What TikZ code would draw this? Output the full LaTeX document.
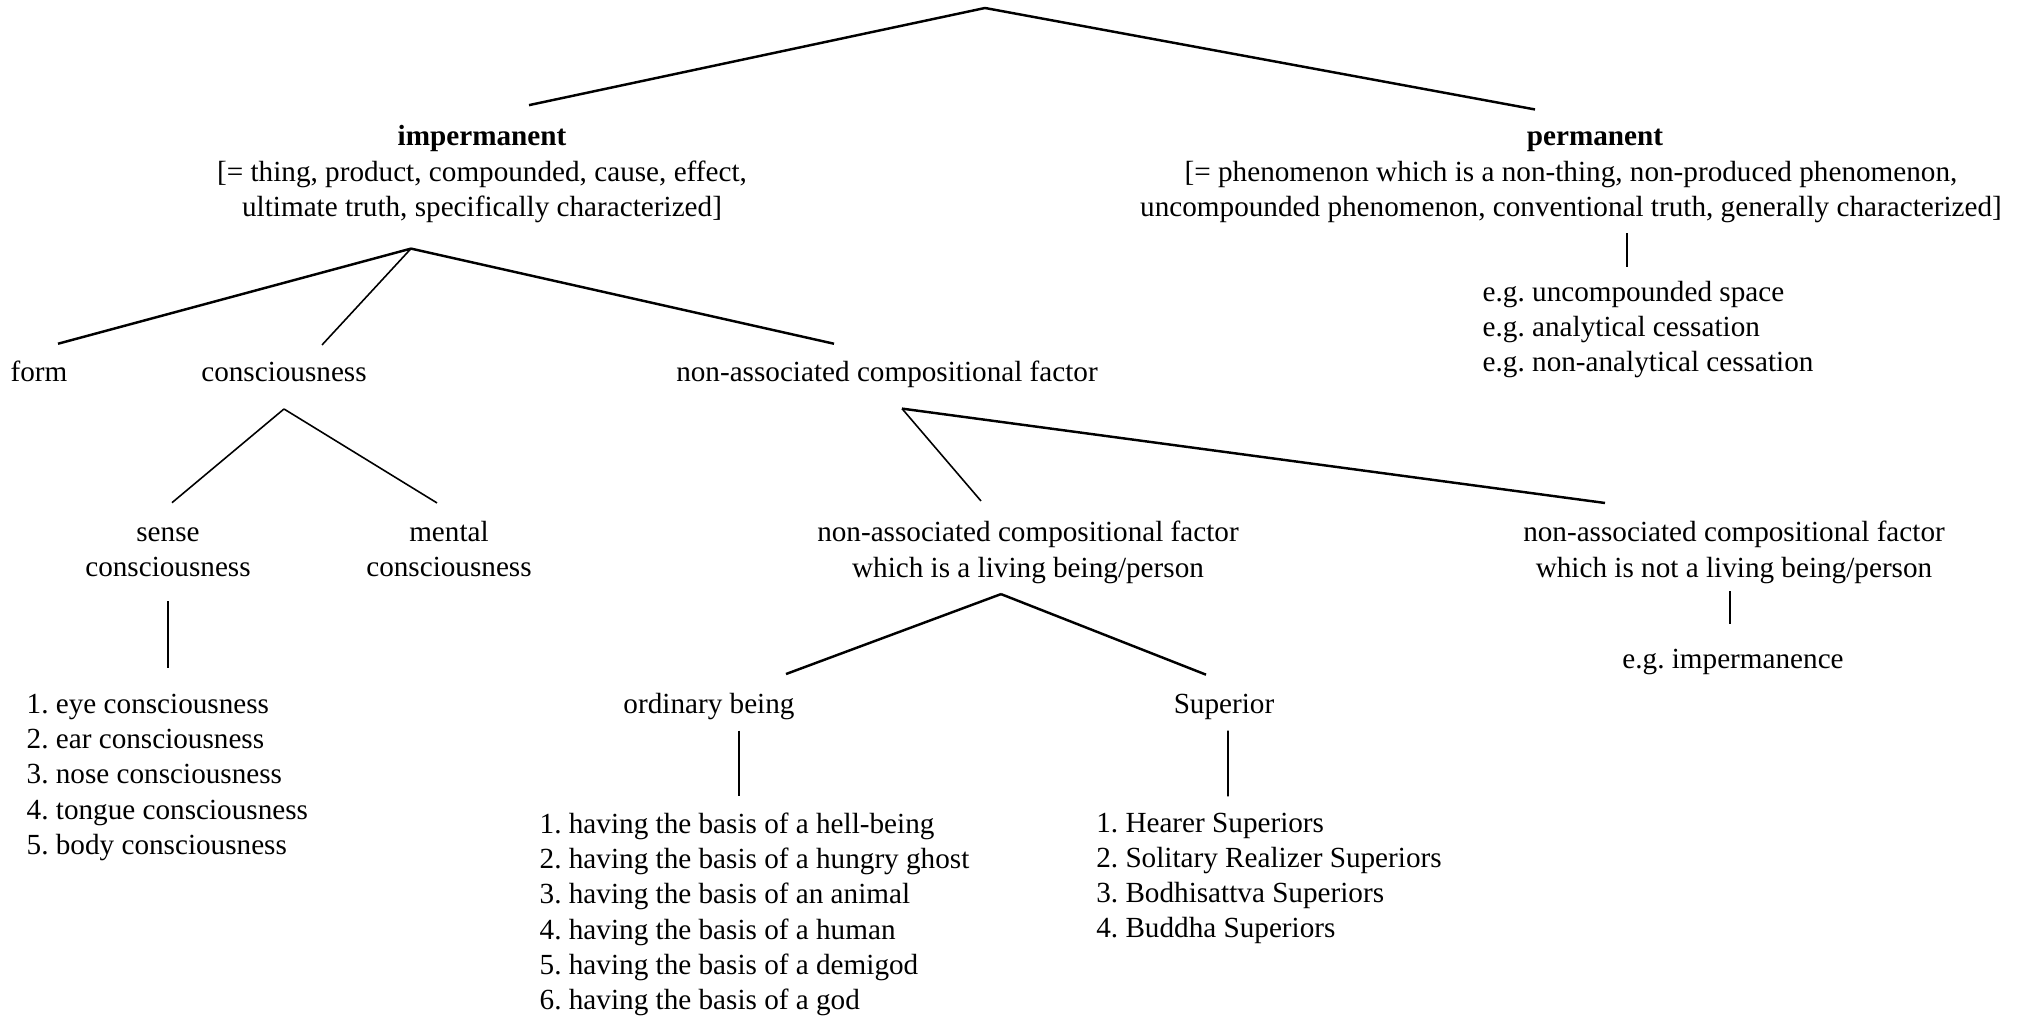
\documentclass[tikz,border=0pt]{standalone}
\usepackage{fontspec}
\setmainfont{Liberation Serif}

\begin{document}
\frenchspacing
\begin{tikzpicture}[x=0.01cm, y=-0.01cm,
        every node/.style={inner sep=0pt, font=\fontsize{8.3}{10}\selectfont},
        head/.style={anchor=base, font=\fontsize{8.3}{10}\selectfont\bfseries},
        word/.style={anchor=base},
        block/.style={align=center},
        items/.style={align=left, anchor=west},
        limb/.style={line width=0.7pt},
        twig/.style={line width=0.45pt}]
        \useasboundingbox (0,0) rectangle (2033,1016);

        \node[head] (imp) at (482,145.6) {impermanent};
        \node[block] (impdef) at (482,191.8) {{[}= thing, product, compounded, cause, effect,\\ultimate truth, specifically characterized]};
        \node[head] (perm) at (1595,145.6) {permanent};
        \node[block] (permdef) at (1571,191.8) {{[}= phenomenon which is a non-thing, non-produced phenomenon,\\uncompounded phenomenon, conventional truth, generally characterized]};
        \node[items] (permeg) at (1482,329.8) {e.g. uncompounded space\\e.g. analytical cessation\\e.g. non-analytical cessation};

        \node[word] (form) at (39,381.6) {form};
        \node[word] (consc) at (284,381.6) {consciousness};
        \node[word] (nac) at (887,381.6) {non-associated compositional factor};

        \node[block] (sense) at (168,552.5) {sense\\consciousness};
        \node[block] (mental) at (449,549.1) {mental\\consciousness};
        \node[block] (living) at (1028,552.3) {non-associated compositional factor\\which is a living being/person};
        \node[block] (nonliving) at (1734,552.3) {non-associated compositional factor\\which is not a living being/person};
        \node[word] (impce) at (1733,668.6) {e.g. impermanence};

        \node[word] (ordinary) at (709,713.6) {ordinary being};
        \node[word] (superior) at (1224,713.6) {Superior};

        \node[items] (senses) at (26,777.4) {1. eye consciousness\\2. ear consciousness\\3. nose consciousness\\4. tongue consciousness\\5. body consciousness};
        \node[items] (bases) at (539,914.3) {1. having the basis of a hell-being\\2. having the basis of a hungry ghost\\3. having the basis of an animal\\4. having the basis of a human\\5. having the basis of a demigod\\6. having the basis of a god};
        \node[items] (superiors) at (1095.6,878.6) {1. Hearer Superiors\\2. Solitary Realizer Superiors\\3. Bodhisattva Superiors\\4. Buddha Superiors};

        \coordinate (root) at (985,8);
        \coordinate (impfork) at ([shift={(-71,25.1)}]impdef.south);
        \coordinate (conscfork) at ([shift={(0,26.4)}]consc.south);
        \coordinate (nacfork) at ([shift={(15,20.1)}]nac.south);
        \coordinate (livingfork) at ([shift={(-27,10.1)}]living.south);

        \draw[limb] (root) -- ([shift={(47,-19.5)}]imp.north);
        \draw[limb] (root) -- ([shift={(-60,-19)}]perm.north);
        \draw[limb] (impfork) -- ([shift={(19,-16.6)}]form.north);
        \draw[twig] (impfork) -- ([shift={(38,-16.6)}]consc.north);
        \draw[limb] (impfork) -- ([shift={(-53,-16.6)}]nac.north);
        \draw[twig] ([shift={(56,10.1)}]permdef.south) -- ([shift={(145,-13.6)}]permeg.north west);
        \draw[twig] (conscfork) -- ([shift={(4,-24.5)}]sense.north);
        \draw[twig] (conscfork) -- ([shift={(-12,-17.6)}]mental.north);
        \draw[twig] ([shift={(0,23.4)}]sense.south) -- ([shift={(142,-25.9)}]senses.north west);
        \draw[twig] (nacfork) -- ([shift={(-47,-19.6)}]living.north);
        \draw[limb] (nacfork) -- ([shift={(-129,-17.6)}]nonliving.north);
        \draw[twig] ([shift={(-4,7.1)}]nonliving.south) -- ([shift={(-3,-24.6)}]impce.north);
        \draw[limb] (livingfork) -- ([shift={(77,-18.6)}]ordinary.north);
        \draw[limb] (livingfork) -- ([shift={(-18,-18.9)}]superior.north);
        \draw[twig] ([shift={(30,10.1)}]ordinary.south) -- ([shift={(200,-15.9)}]bases.north west);
        \draw[twig] ([shift={(4,10.1)}]superior.south) -- ([shift={(132.4,-15.9)}]superiors.north west);
\end{tikzpicture}
\end{document}
